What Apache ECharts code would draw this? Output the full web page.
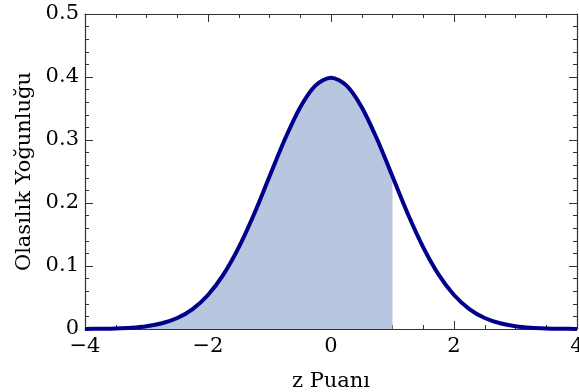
<!DOCTYPE html>
<html>
<head>
<meta charset="utf-8">
<script src="https://cdn.jsdelivr.net/npm/echarts@6/dist/echarts.min.js"></script>
<style>
  html, body { margin: 0; padding: 0; background: #fff; }
  #chart { width: 579px; height: 392px; }
</style>
</head>
<body>
<div id="chart"></div>
<script>
// z values and density
const zValues = [-4, -3.75, -3.5, -3.25, -3, -2.75, -2.5, -2.25, -2, -1.75, -1.5, -1.25, -1, -0.75, -0.5, -0.25,
  0, 0.25, 0.5, 0.75, 1, 1.25, 1.5, 1.75, 2, 2.25, 2.5, 2.75, 3, 3.25, 3.5, 3.75, 4];
const density = [0.0001, 0.0004, 0.0009, 0.0020, 0.0044, 0.0091, 0.0175, 0.0317, 0.0540, 0.0863, 0.1295, 0.1826,
  0.2420, 0.3011, 0.3521, 0.3867, 0.3989, 0.3867, 0.3521, 0.3011, 0.2420, 0.1826, 0.1295, 0.0863, 0.0540,
  0.0317, 0.0175, 0.0091, 0.0044, 0.0020, 0.0009, 0.0004, 0.0001];
const shadeUpTo = 1;
const xTicks = [-4, 4, 2];      // min, max, interval
const yTicks = [0, 0.5, 0.1];

const curve = zValues.map((z, i) => [z, density[i]]);
const shaded = curve.filter(p => p[0] <= shadeUpTo);

const font = 'DejaVu Serif';
const axisColor = '#333';

function xAxisCfg(position, showLabel) {
  return {
    type: 'value', position: position,
    min: xTicks[0], max: xTicks[1], interval: xTicks[2],
    axisLine: { show: true, onZero: false, lineStyle: { color: axisColor, width: 1.2 } },
    axisTick: { show: true, inside: true, length: 8, lineStyle: { color: axisColor, width: 1 } },
    minorTick: { show: true, splitNumber: 4, length: 4, lineStyle: { color: axisColor, width: 1 } },
    splitLine: { show: false },
    axisLabel: {
      show: showLabel, color: '#000', fontFamily: font, fontSize: 21, margin: 7,
      formatter: v => String(v).replace('-', '\u2212')
    },
    name: showLabel ? 'z Puanı' : '', nameLocation: 'middle', nameGap: 42,
    nameTextStyle: { color: '#000', fontFamily: font, fontSize: 21 }
  };
}

function yAxisCfg(position, showLabel) {
  return {
    type: 'value', position: position,
    min: yTicks[0], max: yTicks[1], interval: yTicks[2],
    axisLine: { show: true, onZero: false, lineStyle: { color: axisColor, width: 1.2 } },
    axisTick: { show: true, inside: true, length: 8, lineStyle: { color: axisColor, width: 1 } },
    minorTick: { show: true, splitNumber: 5, length: 4, lineStyle: { color: axisColor, width: 1 } },
    splitLine: { show: false },
    axisLabel: {
      show: showLabel, color: '#000', fontFamily: font, fontSize: 21, margin: 6,
      formatter: v => v === 0 ? '0' : v.toFixed(1)
    },
    name: showLabel ? 'Olasılık Yoğunluğu' : '', nameLocation: 'middle', nameGap: 50,
    nameTextStyle: { color: '#000', fontFamily: font, fontSize: 21 }
  };
}

const chart = echarts.init(document.getElementById('chart'));
chart.setOption({
  animation: false,
  backgroundColor: '#fff',
  grid: { left: 85, right: 2, top: 14, bottom: 63, outerBoundsMode: 'none', containLabel: false },
  xAxis: [xAxisCfg('bottom', true), xAxisCfg('top', false)],
  yAxis: [yAxisCfg('left', true), yAxisCfg('right', false)],
  series: [
    {
      type: 'line', data: shaded, smooth: 0.3, symbol: 'none',
      lineStyle: { width: 0 },
      areaStyle: { color: '#b8c6e0', opacity: 1 },
      z: 1
    },
    {
      type: 'line', data: curve, smooth: 0.3, symbol: 'none',
      lineStyle: { color: '#00008b', width: 4 },
      z: 2
    }
  ]
});
</script>
</body>
</html>
